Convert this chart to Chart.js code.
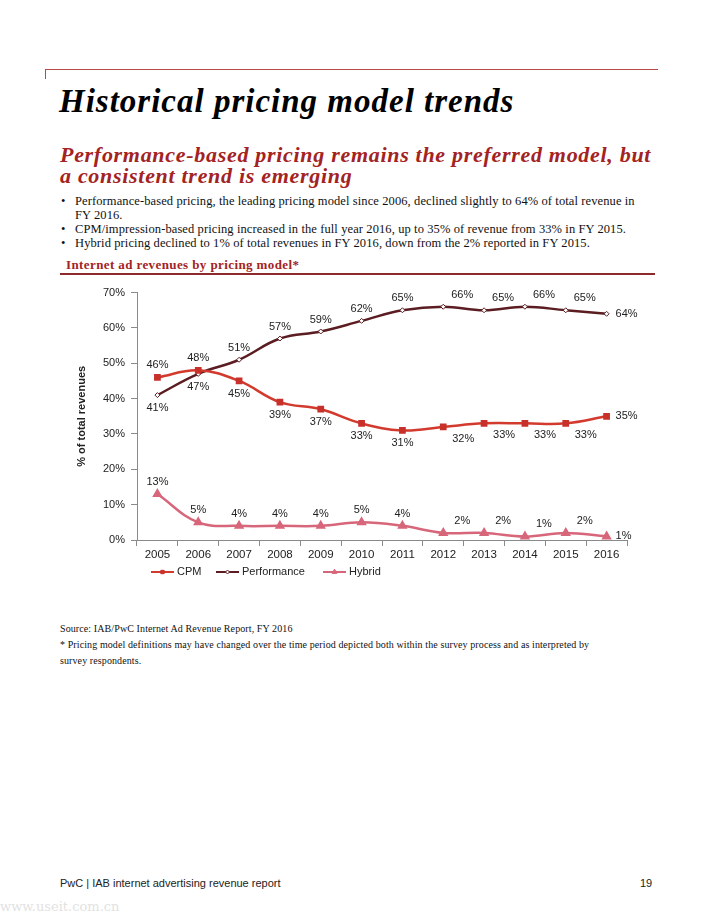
<!DOCTYPE html>
<html>
<head>
<meta charset="utf-8">
<script src="https://cdn.jsdelivr.net/npm/chart.js@4.4.0/dist/chart.umd.min.js"></script>
<style>
  body { margin: 0; background: #fff; }
  #page { position: relative; width: 714px; height: 924px; overflow: hidden; font-family: "Liberation Serif", serif; color: #111; }
  .abs { position: absolute; white-space: nowrap; }
  #topline { left: 45px; top: 69px; width: 613px; height: 1px; background: #b8474a; }
  #topTick { left: 45px; top: 69px; width: 1px; height: 10px; background: #b8474a; }
  #title { left: 59px; top: 83px; font-size: 33px; letter-spacing: 1px; font-weight: bold; font-style: italic; color: #000; }
  #subtitle { left: 60px; top: 144px; font-size: 22px; letter-spacing: 0.7px; font-weight: bold; font-style: italic; color: #a32323; line-height: 21px; }
  #bullets { left: 60px; top: 194px; font-size: 12.5px; letter-spacing: 0.1px; line-height: 14px; }
  #bullets div { position: relative; padding-left: 15px; }
  #bullets div::before { content: "\2022"; position: absolute; left: 1px; }
  #chartTitle { left: 66px; top: 257px; font-size: 13px; letter-spacing: 0.4px; font-weight: bold; color: #a32323; }
  #chartLine { left: 60px; top: 273px; width: 595px; height: 2px; background: #8e2a2c; }
  #chartBox { left: 60px; top: 280px; width: 600px; height: 320px; }
  #source { left: 60px; top: 621px; font-size: 10px; letter-spacing: 0.1px; line-height: 16px; }
  #footer { left: 60px; top: 877px; font-family: "Liberation Sans", Arial, sans-serif; font-size: 11px; color: #222; }
  #pageNum { left: 640px; top: 877px; font-family: "Liberation Sans", Arial, sans-serif; font-size: 11px; color: #222; }
  #mark { left: 0px; top: 899px; font-family: "DejaVu Serif", serif; font-size: 13px; color: #e2e2e2; }
</style>
</head>
<body>
<div id="page">
  <div class="abs" id="topline"></div>
  <div class="abs" id="topTick"></div>
  <div class="abs" id="title">Historical pricing model trends</div>
  <div class="abs" id="subtitle">Performance-based pricing remains the preferred model, but<br>a consistent trend is emerging</div>
  <div class="abs" id="bullets">
    <div>Performance-based pricing, the leading pricing model since 2006, declined slightly to 64% of total revenue in<br>FY 2016.</div>
    <div>CPM/impression-based pricing increased in the full year 2016, up to 35% of revenue from 33% in FY 2015.</div>
    <div>Hybrid pricing declined to 1% of total revenues in FY 2016, down from the 2% reported in FY 2015.</div>
  </div>
  <div class="abs" id="chartTitle">Internet ad revenues by pricing model*</div>
  <div class="abs" id="chartLine"></div>
  <div class="abs" id="chartBox"><canvas id="pricingChart" width="600" height="320"></canvas></div>
  <div class="abs" id="source">Source: IAB/PwC Internet Ad Revenue Report, FY 2016<br>* Pricing model definitions may have changed over the time period depicted both within the survey process and as interpreted by<br>survey respondents.</div>
  <div class="abs" id="footer">PwC | IAB internet advertising revenue report</div>
  <div class="abs" id="pageNum">19</div>
  <div class="abs" id="mark">www.useit.com.cn</div>
</div>
<script>
// data
const years = ['2005', '2006', '2007', '2008', '2009', '2010', '2011', '2012', '2013', '2014', '2015', '2016'];
const cpm = [46, 48, 45, 39, 37, 33, 31, 32, 33, 33, 33, 35];
const performance = [41, 47, 51, 57, 59, 62, 65, 66, 65, 66, 65, 64];
const hybrid = [13, 5, 4, 4, 4, 5, 4, 2, 2, 1, 2, 1];
const yTicks = [0, 10, 20, 30, 40, 50, 60, 70];

// where each value label sits relative to its point
const cpmLabelPos = ['t', 't', 'b', 'b', 'b', 'b', 'b', 'br', 'br', 'br', 'br', 'r'];
const perfLabelPos = ['b', 'b', 't', 't', 't', 't', 't', 'tr', 'tr', 'tr', 'tr', 'r'];
const hybridLabelPos = ['t', 't', 't', 't', 't', 't', 't', 'tr', 'tr', 'tr', 'tr', 'r'];

const FONT = '"Liberation Sans", Arial, sans-serif';

const labelOffsets = {
    t: [0, -12, 'center'],
    b: [0, 13, 'center'],
    tr: [19, -12, 'center'],
    br: [20, 12, 'center'],
    r: [9, 0, 'left']
};

const valueLabels = {
    id: 'valueLabels',
    afterDatasetsDraw(chart) {
        const ctx = chart.ctx;
        ctx.save();
        ctx.font = '11px ' + FONT;
        ctx.fillStyle = '#222';
        ctx.textBaseline = 'middle';
        chart.data.datasets.forEach(function(ds, i) {
            const meta = chart.getDatasetMeta(i);
            meta.data.forEach(function(pt, j) {
                const off = labelOffsets[ds.labelPos[j]];
                ctx.textAlign = off[2];
                ctx.fillText(ds.data[j] + '%', pt.x + off[0], pt.y + off[1]);
            });
        });
        ctx.restore();
    }
};

// Excel-style legend: short line with marker, then the name
const lineLegend = {
    id: 'lineLegend',
    afterDraw(chart) {
        const ctx = chart.ctx;
        const y = 292;
        const starts = [91, 156, 263];
        ctx.save();
        ctx.font = '11px ' + FONT;
        ctx.textBaseline = 'middle';
        ctx.textAlign = 'left';
        chart.data.datasets.forEach(function(ds, i) {
            const x = starts[i];
            ctx.strokeStyle = ds.borderColor;
            ctx.lineWidth = 2;
            ctx.beginPath();
            ctx.moveTo(x, y);
            ctx.lineTo(x + 23, y);
            ctx.stroke();
            ctx.fillStyle = ds.pointBackgroundColor;
            ctx.strokeStyle = ds.pointBorderColor;
            ctx.lineWidth = 1;
            Chart.helpers.drawPoint(ctx, {
                pointStyle: ds.pointStyle,
                radius: ds.pointRadius * 0.8,
                borderWidth: 1
            }, x + 11.5, y);
            ctx.fillStyle = '#222';
            ctx.fillText(ds.label, x + 26, y);
        });
        ctx.restore();
    }
};

const ctx = document.getElementById('pricingChart');
new Chart(ctx, {
    type: 'line',
    data: {
        labels: years,
        datasets: [{
            label: 'CPM',
            data: cpm,
            labelPos: cpmLabelPos,
            borderColor: '#d23a2e',
            pointBackgroundColor: '#c8302a',
            pointBorderColor: '#c8302a',
            pointStyle: 'rect',
            pointRadius: 3,
            borderWidth: 2.5,
            tension: 0.4
        }, {
            label: 'Performance',
            data: performance,
            labelPos: perfLabelPos,
            borderColor: '#5b1d22',
            pointBackgroundColor: '#ffffff',
            pointBorderColor: '#5b1d22',
            pointStyle: 'rectRot',
            pointRadius: 2.5,
            pointBorderWidth: 1,
            borderWidth: 2.5,
            tension: 0.4
        }, {
            label: 'Hybrid',
            data: hybrid,
            labelPos: hybridLabelPos,
            borderColor: '#d7667a',
            pointBackgroundColor: '#d7667a',
            pointBorderColor: '#d7667a',
            pointStyle: 'triangle',
            pointRadius: 3.5,
            borderWidth: 2.5,
            tension: 0.4
        }]
    },
    options: {
        responsive: false,
        animation: false,
        devicePixelRatio: 1,
        layout: { padding: { top: 10, right: 33, left: 15, bottom: 0 } },
        plugins: {
            legend: { display: false },
            tooltip: { enabled: false }
        },
        scales: {
            x: {
                offset: true,
                grid: { offset: true, drawOnChartArea: false, drawTicks: true, tickLength: 6, color: '#8a8a8a' },
                border: { color: '#8a8a8a', width: 1 },
                ticks: { color: '#222', font: { family: FONT, size: 11.5 }, padding: 2, maxRotation: 0 },
                afterFit: function(scale) { scale.height = 60; }
            },
            y: {
                min: 0,
                max: 70,
                afterBuildTicks: function(scale) {
                    scale.ticks = yTicks.map(function(v) { return { value: v }; });
                },
                grid: { drawOnChartArea: false, drawTicks: true, tickLength: 6, color: '#8a8a8a' },
                border: { color: '#8a8a8a', width: 1 },
                ticks: {
                    color: '#222',
                    font: { family: FONT, size: 11 },
                    padding: 6,
                    callback: function(v) { return v + '%'; }
                },
                title: {
                    display: true,
                    text: '% of total revenues',
                    color: '#222',
                    font: { family: FONT, size: 11, weight: 'bold' },
                    padding: 0
                },
                afterFit: function(scale) { scale.width = 62; }
            }
        }
    },
    plugins: [valueLabels, lineLegend]
});
</script>
</body>
</html>
